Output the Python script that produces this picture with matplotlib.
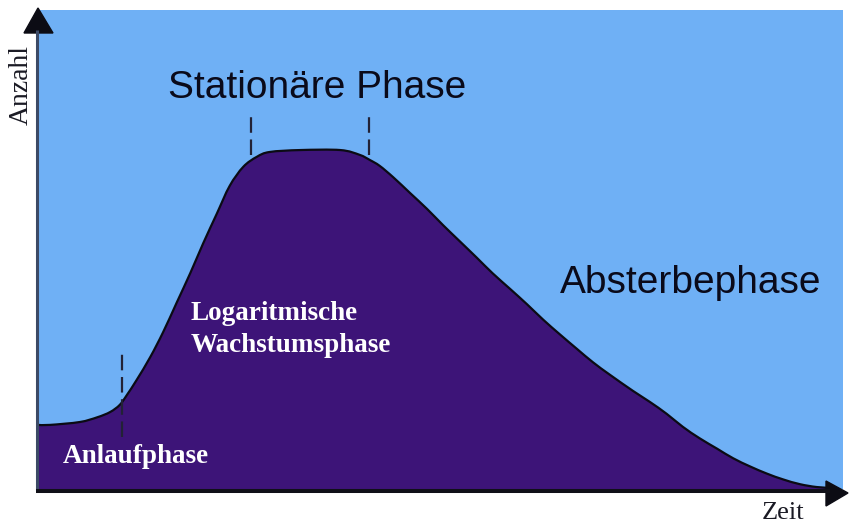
import matplotlib
matplotlib.use("Agg")
import matplotlib.pyplot as plt
from matplotlib.patches import Polygon, PathPatch
from matplotlib.path import Path

# ---- data ----
time = [0.0, 1.5, 5.2, 7.4, 9.0, 10.2, 11.1, 12.3, 14.0, 15.6, 17.3, 19.0, 20.6,
        22.3, 23.9, 25.6, 27.3, 28.9, 32.7, 37.7, 40.1, 41.4, 42.6, 44.3, 46.4,
        48.5, 50.5, 52.6, 54.7, 56.7, 58.9, 61.0, 63.0, 65.1, 67.2, 69.2, 71.3,
        74.2, 76.3, 78.4, 80.4, 82.5, 84.7, 86.7, 88.8, 90.9, 92.9, 95.0, 97.1, 99.1]
count = [13.2, 13.2, 13.8, 14.8, 15.9, 17.4, 19.5, 22.6, 27.4, 32.6, 38.8, 45.0, 51.2,
         57.4, 63.2, 67.2, 69.3, 70.3, 70.7, 70.7, 69.7, 68.6, 67.4, 65.0, 61.7,
         58.4, 55.0, 51.6, 48.2, 44.9, 41.6, 38.4, 35.2, 32.1, 29.1, 26.3, 23.7,
         20.3, 18.0, 15.5, 12.8, 10.4, 8.2, 6.2, 4.5, 3.0, 1.8, 0.8, 0.2, 0.0]

phase_times = [10.5, 26.6, 41.3]          # phase boundary markers
phase_marker_low = [10.7, 69.7, 69.7]
phase_marker_high = [28.2, 78.0, 78.0]

labels_dark = ["Stationäre Phase", "Absterbephase"]
labels_dark_pos = [(16.2, 81.6), (65.1, 40.8)]
labels_white = ["Logaritmische", "Wachstumsphase", "Anlaufphase"]
labels_white_pos = [(19.0, 35.1), (19.0, 28.5), (3.1, 5.2)]
y_label = "Anzahl"
x_label = "Zeit"

W, H = 849, 527
BLUE = "#6FB0F5"
PURPLE = "#3D1478"


def smooth_path_vertices(xs, ys):
    """Catmull-Rom spline through the points, expressed as cubic Bezier segments."""
    pts = list(zip(xs, ys))
    verts = [pts[0]]
    codes = [Path.MOVETO]
    n = len(pts)
    for i in range(n - 1):
        p0 = pts[i - 1] if i > 0 else pts[i]
        p1 = pts[i]
        p2 = pts[i + 1]
        p3 = pts[i + 2] if i + 2 < n else pts[i + 1]
        c1 = (p1[0] + (p2[0] - p0[0]) / 6, p1[1] + (p2[1] - p0[1]) / 6)
        c2 = (p2[0] - (p3[0] - p1[0]) / 6, p2[1] - (p3[1] - p1[1]) / 6)
        verts += [c1, c2, p2]
        codes += [Path.CURVE4] * 3
    return verts, codes


fig = plt.figure(figsize=(W / 100, H / 100), dpi=100)
fig.patch.set_facecolor("white")

left_px, right_px, top_px, bot_px = 38, 843, 10, 489
ax = fig.add_axes([left_px / W, (H - bot_px) / H, (right_px - left_px) / W, (bot_px - top_px) / H])
ax.set_facecolor(BLUE)
ax.set_xlim(0, (right_px - left_px) / 8.02)
ax.set_ylim(-(bot_px - 488) / 4.78, (488 - top_px) / 4.78)
for s in ax.spines.values():
    s.set_visible(False)
ax.set_xticks([])
ax.set_yticks([])

verts, codes = smooth_path_vertices(time, count)
# filled area under the curve
fill_verts = verts + [(time[-1] + 2, -5), (time[0] - 2, -5), (time[0] - 2, count[0]), verts[0]]
fill_codes = codes + [Path.LINETO, Path.LINETO, Path.LINETO, Path.CLOSEPOLY]
ax.add_patch(PathPatch(Path(fill_verts, fill_codes), facecolor=PURPLE, edgecolor="none", zorder=2))
ax.add_patch(PathPatch(Path(verts, codes), facecolor="none", edgecolor="#0b0b14", lw=1.6,
                       zorder=3, capstyle="round"))

ax.vlines(phase_times, phase_marker_low, phase_marker_high, colors="#222236",
          linestyles=(0, (7, 3)), lw=1.6, zorder=4)

for txt, (x, y) in zip(labels_dark, labels_dark_pos):
    ax.text(x, y, txt, fontsize=28, family="Liberation Sans", color="#0a0a1a",
            ha="left", va="baseline", zorder=5)
for txt, (x, y) in zip(labels_white, labels_white_pos):
    ax.text(x, y, txt, fontsize=19.5, family="Liberation Serif", fontweight="bold",
            color="white", ha="left", va="baseline", zorder=5)

# overlay for the axis arrows
ov = fig.add_axes([0, 0, 1, 1], zorder=10)
ov.set_xlim(0, W)
ov.set_ylim(H, 0)
ov.axis("off")
ov.patch.set_alpha(0)
ov.plot([37, 37], [490, 30], color="#3c4a66", lw=2.2, solid_capstyle="butt")
ov.add_patch(Polygon([(38, 8), (24, 33), (53, 33)], closed=True, color="#0c0c14"))
ov.plot([36, 830], [491, 491], color="#101018", lw=2.9, solid_capstyle="butt")
ov.add_patch(Polygon([(848, 493), (826, 481), (826, 506)], closed=True, color="#0c0c14"))

fig.text(21 / W, 1 - 85 / H, y_label, rotation=90, fontsize=20, family="Liberation Serif",
         color="#1a1a24", ha="center", va="center")
fig.text(762 / W, 1 - 519 / H, x_label, fontsize=19, family="Liberation Serif",
         color="#1a1a24", ha="left", va="baseline")

fig.savefig("out.png", dpi=100)
